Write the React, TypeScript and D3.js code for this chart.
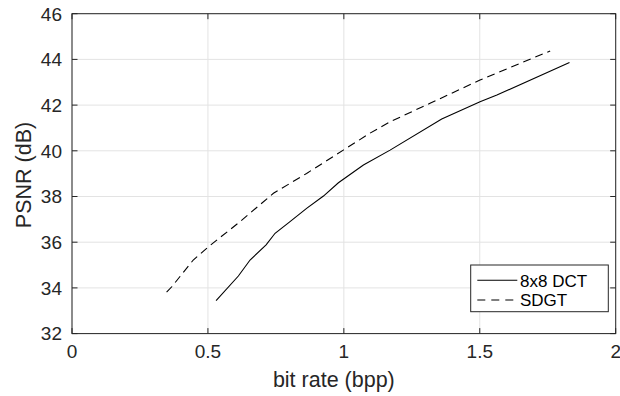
import React from "react";
import * as d3 from "d3";

const dctX = [0.53, 0.612, 0.655, 0.714, 0.747, 0.802, 0.863, 0.925, 0.98, 1.072, 1.17, 1.36, 1.501, 1.563, 1.83];
const dctY = [33.44, 34.52, 35.22, 35.88, 36.39, 36.9, 37.48, 38.02, 38.6, 39.38, 40.03, 41.39, 42.15, 42.44, 43.86];
const sdgtX = [0.348, 0.367, 0.446, 0.502, 0.618, 0.741, 0.863, 0.998, 1.096, 1.17, 1.317, 1.501, 1.759];
const sdgtY = [33.81, 34.05, 35.22, 35.8, 36.9, 38.14, 39.01, 40.03, 40.77, 41.27, 42.08, 43.1, 44.37];
const xTicks = [0, 0.5, 1, 1.5, 2];
const xTickLabels = ["0", "0.5", "1", "1.5", "2"];
const yTicks = [32, 34, 36, 38, 40, 42, 44, 46];
const seriesNames = ["8x8 DCT", "SDGT"];

const W = 620, H = 396;
const L = 72, R = 615.7, T = 13.7, B = 333.6;

export default function App() {
  const x = d3.scaleLinear().domain([0, 2]).range([L, R]);
  const y = d3.scaleLinear().domain([32, 46]).range([B, T]);
  const line = d3.line<[number, number]>().x(d => x(d[0])).y(d => y(d[1]));
  const dct = dctX.map((v, i) => [v, dctY[i]] as [number, number]);
  const sdgt = sdgtX.map((v, i) => [v, sdgtY[i]] as [number, number]);
  const font = "'Liberation Sans', Arial, Helvetica, sans-serif";
  const axisColor = "#262626";
  const tl = 5.5;
  return (
    <svg width={W} height={H} style={{ position: "absolute", left: 0, top: 0, background: "#fff" }} fontFamily={font}>
      <rect x={0} y={0} width={W} height={H} fill="#fff" />
      {xTicks.map(t => (
        <line key={"gx" + t} x1={x(t)} x2={x(t)} y1={T} y2={B} stroke="#e3e3e3" strokeWidth={1} />
      ))}
      {yTicks.map(t => (
        <line key={"gy" + t} x1={L} x2={R} y1={y(t)} y2={y(t)} stroke="#e3e3e3" strokeWidth={1} />
      ))}
      <path d={line(dct) || ""} fill="none" stroke="#000" strokeWidth={1.1} />
      <path d={line(sdgt) || ""} fill="none" stroke="#000" strokeWidth={1.1} strokeDasharray="8,5" />
      <rect x={L} y={T} width={R - L} height={B - T} fill="none" stroke={axisColor} strokeWidth={1} />
      {xTicks.map(t => (
        <g key={"tx" + t}>
          <line x1={x(t)} x2={x(t)} y1={B} y2={B - tl} stroke={axisColor} />
          <line x1={x(t)} x2={x(t)} y1={T} y2={T + tl} stroke={axisColor} />
        </g>
      ))}
      {yTicks.map(t => (
        <g key={"ty" + t}>
          <line x1={L} x2={L + tl} y1={y(t)} y2={y(t)} stroke={axisColor} />
          <line x1={R} x2={R - tl} y1={y(t)} y2={y(t)} stroke={axisColor} />
          <text x={L - 10} y={y(t) + 6.8} textAnchor="end" fontSize={19} fill={axisColor}>{t}</text>
        </g>
      ))}
      {xTicks.map((t, i) => (
        <text key={"lx" + t} x={x(t)} y={B + 24.5} textAnchor="middle" fontSize={19} fill={axisColor}>{xTickLabels[i]}</text>
      ))}
      <text x={(L + R) / 2 - 10} y={387} textAnchor="middle" fontSize={21.5} fill={axisColor}>bit rate (bpp)</text>
      <text transform={`translate(31,175) rotate(-90)`} textAnchor="middle" fontSize={21.5} fill={axisColor}>PSNR (dB)</text>
      <g>
        <rect x={470.7} y={265} width={137.6} height={46.7} fill="#fff" stroke={axisColor} strokeWidth={1} />
        <line x1={477.3} x2={517.3} y1={280.3} y2={280.3} stroke="#000" strokeWidth={1.1} />
        <line x1={477.3} x2={517.3} y1={300} y2={300} stroke="#000" strokeWidth={1.1} strokeDasharray="8,6" />
        <text x={520} y={286.5} fontSize={17} fill="#000">{seriesNames[0]}</text>
        <text x={520} y={306.2} fontSize={17} fill="#000">{seriesNames[1]}</text>
      </g>
    </svg>
  );
}
